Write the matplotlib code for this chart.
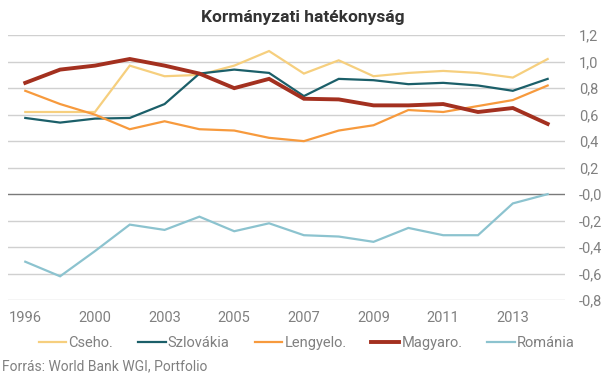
import numpy as np
import matplotlib.pyplot as plt

# World Bank WGI - government effectiveness
years = ['1996', '1998', '2000', '2002', '2003', '2004', '2005', '2006',
         '2007', '2008', '2009', '2010', '2011', '2012', '2013', '2014']
year_labels = ['1996', '2000', '2003', '2005', '2007', '2009', '2011', '2013']

cseho = [0.62, 0.62, 0.62, 0.97, 0.89, 0.90, 0.97, 1.08,
         0.91, 1.01, 0.89, 0.915, 0.93, 0.915, 0.88, 1.02]
szlovakia = [0.575, 0.54, 0.57, 0.575, 0.68, 0.91, 0.94, 0.915,
             0.74, 0.87, 0.86, 0.83, 0.84, 0.82, 0.78, 0.87]
lengyelo = [0.78, 0.68, 0.60, 0.49, 0.55, 0.49, 0.48, 0.425,
            0.40, 0.48, 0.52, 0.635, 0.62, 0.665, 0.71, 0.82]
magyaro = [0.84, 0.94, 0.97, 1.02, 0.97, 0.91, 0.80, 0.87,
           0.72, 0.715, 0.67, 0.67, 0.68, 0.62, 0.65, 0.53]
romania = [-0.51, -0.62, -0.43, -0.23, -0.27, -0.17, -0.28, -0.22,
           -0.31, -0.32, -0.36, -0.255, -0.31, -0.31, -0.07, 0.0]

series = [
    ('Cseho.', cseho, '#f6cf7e', 1.6),
    ('Szlovákia', szlovakia, '#1b5f69', 1.6),
    ('Lengyelo.', lengyelo, '#f79a3d', 1.6),
    ('Magyaro.', magyaro, '#a3301f', 2.8),
    ('Románia', romania, '#8cc3cf', 1.6),
]

plt.rcParams['font.family'] = ['Roboto', 'DejaVu Sans']
grey = '#808080'

fig = plt.figure(figsize=(6.05, 3.78), dpi=100)
ax = fig.add_axes([0.013, 0.206, 0.921, 0.701])

x = np.arange(len(years))
yticks = np.round(np.arange(-0.8, 1.21, 0.2), 1)
for v in yticks:
    if v == 0:
        ax.axhline(v, color='#7a7a7a', lw=1.0, zorder=1)
    else:
        ax.axhline(v, color='#d0d0d0', lw=1.0, zorder=1)

for name, vals, col, lw in series:
    ax.plot(x, vals, color=col, lw=lw, label=name, zorder=3,
            solid_joinstyle='miter')

ax.set_xlim(-0.5, 15.5)
ax.set_ylim(-0.8, 1.2)
ax.set_yticks(yticks)
ax.set_yticklabels([('%.1f' % v).replace('.', ',') for v in yticks])
ax.yaxis.tick_right()
ax.set_xticks(x[::2])
ax.set_xticklabels(year_labels)
ax.tick_params(length=0, labelsize=10.5, colors=grey)
ax.tick_params(axis='y', pad=10)
ax.tick_params(axis='x', pad=8)
for s in ax.spines.values():
    s.set_visible(False)

fig.text(0.5, 0.955, 'Kormányzati hatékonyság', ha='center', va='center',
         fontsize=12.5, fontweight='bold', color='#333333')

fig.legend(loc='center', bbox_to_anchor=(0.507, 0.093), ncol=5, frameon=False,
           fontsize=10.5, handlelength=1.9, handletextpad=0.15,
           columnspacing=1.7, labelcolor=grey)

fig.text(0.004, 0.032, 'Forrás: World Bank WGI, Portfolio', ha='left',
         va='center', fontsize=10, color=grey)

fig.savefig('out.png', dpi=100)
